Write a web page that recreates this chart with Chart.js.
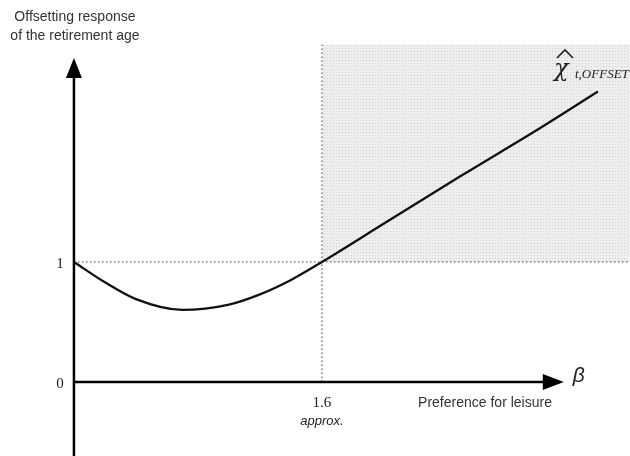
<!DOCTYPE html>
<html>
<head>
<meta charset="utf-8">
<script src="https://cdn.jsdelivr.net/npm/chart.js@4"></script>
<style>
  html, body { margin: 0; padding: 0; background: #fff; }
  #wrap { width: 630px; height: 456px; position: relative; }
</style>
</head>
<body>
<div id="wrap"><canvas id="chart"></canvas></div>
<script>
// curve (beta, offsetting response)
const betaValues = [0, 0.2, 0.4, 0.7, 1.0, 1.2, 1.4, 1.6, 2.0, 2.5, 3.0, 3.38];
const offsetValues = [1, 0.83, 0.69, 0.6, 0.645, 0.73, 0.85, 1.0, 1.32, 1.72, 2.11, 2.42];

// threshold where the response crosses 1
const betaThreshold = 1.6;
const yThreshold = 1;

// tick labels on the axes
const xTicks = [1.6];
const yTicks = [0, 1];

// axis ranges (the arrows end here)
const xArrowEnd = 3.16;
const yArrowEnd = 2.7;
const shadeTop = 2.81;

const X_MIN = -0.477, X_MAX = 3.587;
const Y_MIN = -0.617, Y_MAX = 3.183;

// light gray dotted texture for the shaded area
const makePattern = () => {
    const c = document.createElement('canvas');
    c.width = 3; c.height = 3;
    const g = c.getContext('2d');
    g.fillStyle = '#eeeeee';
    g.fillRect(0, 0, 3, 3);
    g.fillStyle = '#d2d2d2';
    g.fillRect(0, 0, 1, 1);
    return g.createPattern(c, 'repeat');
};

// axes, arrows and labels drawn from the scales
const axesPlugin = {
    id: 'axesPlugin',
    afterDatasetsDraw(chart) {
        const ctx = chart.ctx;
        const xs = chart.scales.x, ys = chart.scales.y;
        const x0 = xs.getPixelForValue(0);
        const y0 = ys.getPixelForValue(0);
        const yTop = ys.getPixelForValue(yArrowEnd);
        const xEnd = xs.getPixelForValue(xArrowEnd);

        ctx.save();
        ctx.strokeStyle = '#000';
        ctx.fillStyle = '#000';
        ctx.lineWidth = 2.5;
        // y axis
        ctx.beginPath();
        ctx.moveTo(x0, ys.getPixelForValue(Y_MIN));
        ctx.lineTo(x0, yTop + 15);
        ctx.stroke();
        ctx.beginPath();
        ctx.moveTo(x0, yTop);
        ctx.lineTo(x0 - 8, yTop + 20);
        ctx.lineTo(x0 + 8, yTop + 20);
        ctx.closePath();
        ctx.fill();
        // x axis
        ctx.beginPath();
        ctx.moveTo(x0, y0);
        ctx.lineTo(xEnd - 15, y0);
        ctx.stroke();
        ctx.beginPath();
        ctx.moveTo(xEnd, y0);
        ctx.lineTo(xEnd - 21, y0 - 8);
        ctx.lineTo(xEnd - 21, y0 + 8);
        ctx.closePath();
        ctx.fill();

        // tick labels
        ctx.fillStyle = '#222';
        ctx.font = '15px "Liberation Serif", serif';
        ctx.textBaseline = 'middle';
        ctx.textAlign = 'center';
        yTicks.forEach(v => ctx.fillText(String(v), x0 - 14, ys.getPixelForValue(v) + 2));
        xTicks.forEach(v => ctx.fillText(String(v), xs.getPixelForValue(v), y0 + 21));
        ctx.font = 'italic 13px "Liberation Sans", Arial, sans-serif';
        ctx.fillText('approx.', xs.getPixelForValue(betaThreshold), y0 + 39);

        // axis titles
        ctx.font = '14px "Liberation Sans", Arial, sans-serif';
        ctx.fillStyle = '#333';
        ctx.fillText('Preference for leisure', 485, y0 + 21);
        ctx.fillText('Offsetting response', x0 + 1, 17);
        ctx.fillText('of the retirement age', x0 + 1, 36);
        ctx.font = 'italic 21px "Liberation Sans", Arial, sans-serif';
        ctx.textAlign = 'left';
        ctx.fillStyle = '#222';
        ctx.fillText('\u03B2', xEnd + 9, y0 - 6);

        // curve label: chi hat with subscript
        ctx.font = 'italic 24px "DejaVu Serif", serif';
        ctx.fillText('\u03C7', 554, 70);
        ctx.strokeStyle = '#222';
        ctx.lineWidth = 1.6;
        ctx.beginPath();
        ctx.moveTo(557, 58);
        ctx.lineTo(565, 50);
        ctx.lineTo(573, 58);
        ctx.stroke();
        ctx.font = 'italic 13px "Liberation Serif", serif';
        ctx.fillText('t,OFFSET', 575, 75);
        ctx.restore();
    }
};

new Chart(document.getElementById('chart'), {
    type: 'line',
    data: {
        datasets: [
            {
                // the offsetting response curve (drawn on top)
                data: betaValues.map((b, i) => ({ x: b, y: offsetValues[i] })),
                borderColor: '#111',
                borderWidth: 2.3,
                pointRadius: 0,
                cubicInterpolationMode: 'monotone',
                fill: false
            },
            {
                data: [{ x: 0, y: yThreshold }, { x: X_MAX, y: yThreshold }],
                borderColor: '#666',
                borderWidth: 1.3,
                borderDash: [1.5, 2.5],
                pointRadius: 0,
                fill: false
            },
            {
                data: [{ x: betaThreshold, y: 0 }, { x: betaThreshold, y: shadeTop }],
                borderColor: '#666',
                borderWidth: 1.3,
                borderDash: [1.5, 2.5],
                pointRadius: 0,
                fill: false
            },
            {
                // shaded region above 1 and right of 1.6
                data: [{ x: betaThreshold, y: shadeTop }, { x: X_MAX, y: shadeTop }],
                borderWidth: 0,
                pointRadius: 0,
                backgroundColor: makePattern(),
                fill: { value: yThreshold }
            }
        ]
    },
    options: {
        responsive: true,
        maintainAspectRatio: false,
        animation: false,
        layout: { padding: 0 },
        plugins: { legend: { display: false }, tooltip: { enabled: false } },
        scales: {
            x: { type: 'linear', min: X_MIN, max: X_MAX, display: false },
            y: { type: 'linear', min: Y_MIN, max: Y_MAX, display: false }
        }
    },
    plugins: [axesPlugin]
});
</script>
</body>
</html>
